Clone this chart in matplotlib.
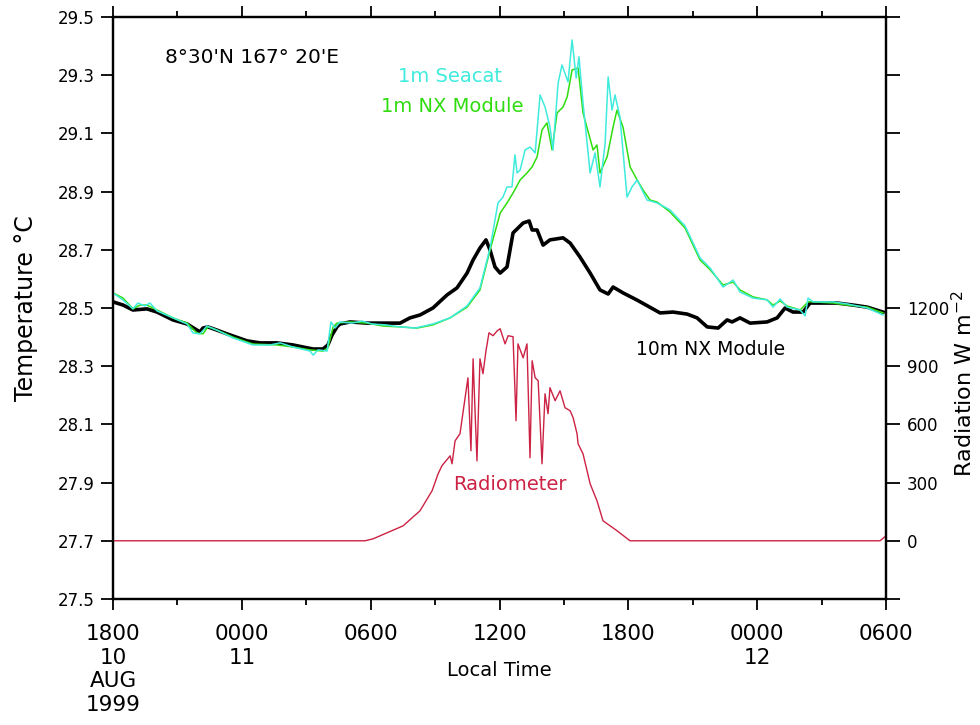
import matplotlib
matplotlib.use("Agg")
import matplotlib.pyplot as plt
from matplotlib.ticker import MultipleLocator, FixedLocator
import numpy as np

plt.rcParams['font.family'] = ['DejaVu Sans']

# hours since 1800 local time, 10 Aug 1999
h_10m = [0, 0.47, 0.93, 1.58, 2.05, 2.79, 3.45, 3.91, 4.05, 4.19, 4.42, 4.84, 5.31, 6.24, 6.85,
         7.64, 8.38, 9.04, 9.32, 9.78, 10.01, 10.20, 10.43, 10.57, 11.04, 11.83, 12.58, 13.37,
         13.83, 14.30, 14.90, 15.56, 16.02, 16.49, 16.77, 17.09, 17.37, 17.56, 17.79, 18.03,
         18.35, 18.63, 19.10, 19.38, 19.52, 19.75, 20.03, 20.35, 20.96, 21.29, 21.75, 22.22,
         22.68, 23.06, 23.29, 23.75, 24.41, 25.48, 26.08, 26.74, 27.20, 27.67, 28.18, 28.60,
         28.83, 29.20, 29.67, 30.46, 30.93, 31.30, 31.67, 32.14, 32.46, 33.26, 33.72, 34.47,
         35.12, 35.86]
t_10m = [28.521, 28.510, 28.493, 28.497, 28.486, 28.459, 28.445, 28.424, 28.418, 28.431, 28.435,
         28.424, 28.411, 28.387, 28.380, 28.380, 28.373, 28.363, 28.359, 28.359, 28.373, 28.407,
         28.435, 28.445, 28.452, 28.448, 28.448, 28.448, 28.466, 28.476, 28.500, 28.545, 28.569,
         28.620, 28.665, 28.706, 28.734, 28.699, 28.641, 28.620, 28.641, 28.758, 28.792, 28.799,
         28.768, 28.768, 28.716, 28.734, 28.741, 28.723, 28.675, 28.620, 28.562, 28.548, 28.572,
         28.552, 28.527, 28.483, 28.486, 28.479, 28.466, 28.435, 28.431, 28.459, 28.452, 28.466,
         28.448, 28.452, 28.466, 28.500, 28.486, 28.486, 28.517, 28.517, 28.517, 28.510, 28.503,
         28.486]

h_nx1 = [0, 0.47, 0.93, 1.26, 1.58, 2.05, 2.79, 3.45, 3.91, 4.19, 4.42, 4.84, 5.59, 6.52, 7.64,
         8.38, 9.18, 9.78, 10.01, 10.25, 10.43, 11.04, 11.83, 12.58, 13.37, 14.16, 14.90, 15.70,
         16.49, 17.09, 17.56, 18.03, 18.35, 18.63, 18.96, 19.28, 19.52, 19.75, 19.98, 20.21,
         20.45, 20.68, 20.96, 21.15, 21.38, 21.66, 21.89, 22.36, 22.54, 22.68, 23.01, 23.29,
         23.47, 23.75, 24.08, 24.41, 24.69, 25.01, 25.34, 25.94, 26.64, 27.34, 27.81, 28.41,
         28.88, 29.20, 29.81, 30.46, 30.74, 31.07, 31.39, 32.00, 32.37, 32.60, 33.54, 34.19,
         35.12, 35.86]
t_nx1 = [28.552, 28.534, 28.497, 28.510, 28.510, 28.493, 28.466, 28.448, 28.414, 28.411, 28.435,
         28.424, 28.400, 28.376, 28.373, 28.366, 28.356, 28.352, 28.363, 28.435, 28.448, 28.452,
         28.448, 28.438, 28.435, 28.431, 28.442, 28.466, 28.503, 28.562, 28.699, 28.826, 28.861,
         28.895, 28.940, 28.964, 28.985, 29.019, 29.112, 29.136, 29.043, 29.170, 29.191, 29.225,
         29.318, 29.325, 29.170, 29.043, 29.060, 28.964, 29.019, 29.122, 29.180, 29.122, 28.985,
         28.940, 28.905, 28.871, 28.864, 28.830, 28.775, 28.665, 28.631, 28.579, 28.589, 28.562,
         28.538, 28.528, 28.510, 28.524, 28.507, 28.493, 28.521, 28.521, 28.517, 28.510, 28.503,
         28.483]

h_seacat = [0, 0.47, 0.93, 1.16, 1.49, 1.72, 2.05, 2.79, 3.45, 3.73, 4.05, 4.38, 4.84, 5.59, 6.52,
            7.31, 7.78, 8.38, 9.18, 9.32, 9.55, 9.97, 10.15, 10.34, 10.57, 11.13, 11.60, 12.06,
            12.67, 13.37, 14.07, 14.90, 15.70, 16.49, 17.09, 17.56, 17.93, 18.16, 18.35, 18.58,
            18.72, 18.82, 18.96, 19.19, 19.42, 19.66, 19.89, 20.12, 20.35, 20.49, 20.73, 20.91,
            21.19, 21.38, 21.57, 21.70, 21.89, 22.22, 22.45, 22.68, 22.92, 23.06, 23.24, 23.38,
            23.61, 23.94, 24.17, 24.41, 24.87, 25.34, 25.94, 26.64, 27.34, 27.81, 28.41, 28.88,
            29.20, 29.81, 30.46, 30.74, 31.07, 31.39, 32.00, 32.23, 32.37, 32.60, 33.54, 34.19,
            35.12, 35.86]
t_seacat = [28.552, 28.527, 28.497, 28.517, 28.507, 28.517, 28.490, 28.466, 28.445, 28.414,
            28.411, 28.438, 28.424, 28.397, 28.373, 28.373, 28.380, 28.366, 28.352, 28.338,
            28.356, 28.352, 28.452, 28.431, 28.452, 28.448, 28.455, 28.445, 28.442, 28.435,
            28.431, 28.445, 28.466, 28.507, 28.569, 28.706, 28.861, 28.881, 28.916, 28.916,
            29.026, 28.964, 28.974, 29.043, 29.053, 29.033, 29.232, 29.191, 29.122, 29.043,
            29.273, 29.335, 29.277, 29.421, 29.290, 29.363, 29.204, 28.964, 29.033, 28.916,
            29.067, 29.294, 29.180, 29.232, 29.156, 28.881, 28.916, 28.940, 28.871, 28.861,
            28.837, 28.782, 28.672, 28.637, 28.572, 28.596, 28.555, 28.534, 28.528, 28.503,
            28.531, 28.503, 28.493, 28.473, 28.534, 28.521, 28.521, 28.514, 28.500, 28.476]

h_rad = [0, 11.74, 12.11, 13.51, 14.30, 14.86, 15.14, 15.32, 15.70, 15.79, 15.93, 16.16, 16.53,
         16.67, 16.77, 16.86, 16.95, 17.09, 17.23, 17.37, 17.51, 17.70, 17.89, 18.03, 18.26,
         18.40, 18.63, 18.77, 18.86, 19.10, 19.28, 19.42, 19.52, 19.66, 19.80, 19.98, 20.12,
         20.26, 20.35, 20.59, 20.82, 21.05, 21.29, 21.43, 21.61, 21.66, 21.89, 22.22, 22.54,
         22.82, 23.47, 24.08, 35.72, 36.0]
rad = [0, 0, 10, 77, 155, 258, 345, 387, 438, 397, 515, 552, 840, 464, 938, 670, 412, 938, 861,
       979, 1072, 1057, 1082, 1093, 1015, 1057, 1052, 619, 1015, 943, 1015, 428, 928, 840, 825,
       397, 758, 655, 789, 722, 773, 686, 670, 634, 552, 500, 448, 294, 206, 103, 52, 0, 0, 26]

xticks = [0, 6, 12, 18, 24, 30, 36]
xticklabels = ['1800\n10\nAUG\n1999', '0000\n11', '0600', '1200', '1800', '0000\n12', '0600']

c_seacat = '#3FEBDD'
c_nx1 = '#2FDD0F'
c_rad = '#CC2244'

fig = plt.figure(figsize=(9.8, 7.25), dpi=100)
ax = fig.add_axes([0.1153, 0.1738, 0.7888, 0.8028])

ax.plot(h_10m, t_10m, color='black', lw=2.6, zorder=3)
ax.plot(h_nx1, t_nx1, color=c_nx1, lw=1.1, zorder=4)
ax.plot(h_seacat, t_seacat, color=c_seacat, lw=1.1, zorder=5)

ax.set_xlim(0, 36)
ax.set_ylim(27.5, 29.5)
ax.set_yticks(np.arange(27.5, 29.51, 0.2))
ax.set_yticklabels(['%.1f' % v for v in np.arange(27.5, 29.51, 0.2)], fontsize=12)
ax.set_xticks(xticks)
ax.set_xticklabels(xticklabels, fontsize=15.5, linespacing=1.22)
ax.xaxis.set_minor_locator(MultipleLocator(3))
ax.tick_params(axis='x', which='major', length=8, width=1.3, pad=10, top=True, direction='out')
ax.tick_params(axis='x', which='minor', length=4, width=1.3, top=True, direction='out')
ax.tick_params(axis='y', which='major', length=9, width=1.3, pad=4, right=False, direction='out')

ax.set_ylabel('Temperature °C', fontsize=17)
ax.yaxis.set_label_coords(-0.097, 0.5)
ax.set_xlabel('Local Time', fontsize=14)
ax.xaxis.set_label_coords(0.5, -0.107)
for s in ax.spines.values():
    s.set_linewidth(1.6)

ax2 = ax.twinx()
ax2.plot(h_rad, rad, color=c_rad, lw=1.0)
ax2.set_ylim(-300, 2700)
ax2.yaxis.set_major_locator(FixedLocator(np.arange(-300, 2701, 300)))
ax2.set_yticklabels([str(int(v)) if 0 <= v <= 1200 else '' for v in np.arange(-300, 2701, 300)],
                    fontsize=12)
ax2.tick_params(axis='y', length=10, width=1.3, pad=5, direction='out')
ax2.set_ylabel('Radiation W m$^{-2}$', fontsize=16)
ax2.yaxis.set_label_coords(1.084, 0.37)
for s in ax2.spines.values():
    s.set_linewidth(1.6)

ax.text(0.0673, 0.931, "8°30'N 167° 20'E", transform=ax.transAxes, fontsize=14.5,
        ha='left', va='center')
ax.text(0.436, 0.897, '1m Seacat', transform=ax.transAxes, fontsize=14,
        ha='center', va='center', color=c_seacat)
ax.text(0.4385, 0.847, '1m NX Module', transform=ax.transAxes, fontsize=14,
        ha='center', va='center', color=c_nx1)
ax.text(0.6766, 0.428, '10m NX Module', transform=ax.transAxes, fontsize=13.5,
        ha='left', va='center')
ax.text(0.5136, 0.196, 'Radiometer', transform=ax.transAxes, fontsize=14,
        ha='center', va='center', color=c_rad)

fig.savefig('out.png', dpi=100)
